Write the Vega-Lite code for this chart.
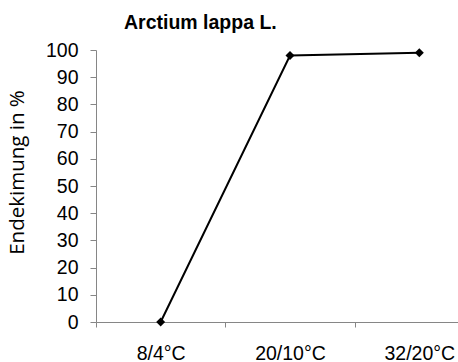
{
  "$schema": "https://vega.github.io/schema/vega-lite/v6.json",
  "autosize": "none",
  "width": 388,
  "height": 272,
  "padding": {"left": 96, "top": 50, "right": 0, "bottom": 40},
  "background": "white",
  "config": {
    "view": {"stroke": null},
    "font": "Liberation Sans"
  },
  "title": {
    "text": "Arctium lappa L.",
    "font": "Liberation Sans",
    "fontSize": 19.5,
    "fontWeight": "bold",
    "color": "#000000",
    "anchor": "start",
    "frame": "group",
    "dx": 28,
    "offset": 7
  },
  "data": {
    "values": [
      {"temp": "8/4°C", "value": 0},
      {"temp": "20/10°C", "value": 98},
      {"temp": "32/20°C", "value": 99}
    ]
  },
  "encoding": {
    "x": {
      "field": "temp",
      "type": "ordinal",
      "sort": null,
      "scale": {"paddingInner": 0, "paddingOuter": 0},
      "axis": {
        "title": null,
        "labelAngle": 0,
        "labelFontSize": 19.5,
        "labelColor": "#000000",
        "labelPadding": 17,
        "tickBand": "extent",
        "tickSize": 5,
        "tickColor": "#868686",
        "domainColor": "#868686",
        "grid": false
      }
    },
    "y": {
      "field": "value",
      "type": "quantitative",
      "scale": {"domain": [0, 100], "nice": false},
      "axis": {
        "title": "Endekimung in %",
        "titleFont": "Open Sans",
        "titleFontSize": 20.5,
        "titleFontWeight": "normal",
        "titleColor": "#000000",
        "titleX": -69,
        "titleY": 122,
        "values": [0, 10, 20, 30, 40, 50, 60, 70, 80, 90, 100],
        "labelFontSize": 19.5,
        "labelColor": "#000000",
        "labelPadding": 12,
        "tickSize": 6,
        "tickColor": "#868686",
        "domainColor": "#868686",
        "grid": false
      }
    }
  },
  "layer": [
    {"mark": {"type": "line", "color": "#000000", "strokeWidth": 2}},
    {"mark": {"type": "point", "shape": "diamond", "filled": true, "color": "#000000", "size": 80, "opacity": 1}}
  ]
}
